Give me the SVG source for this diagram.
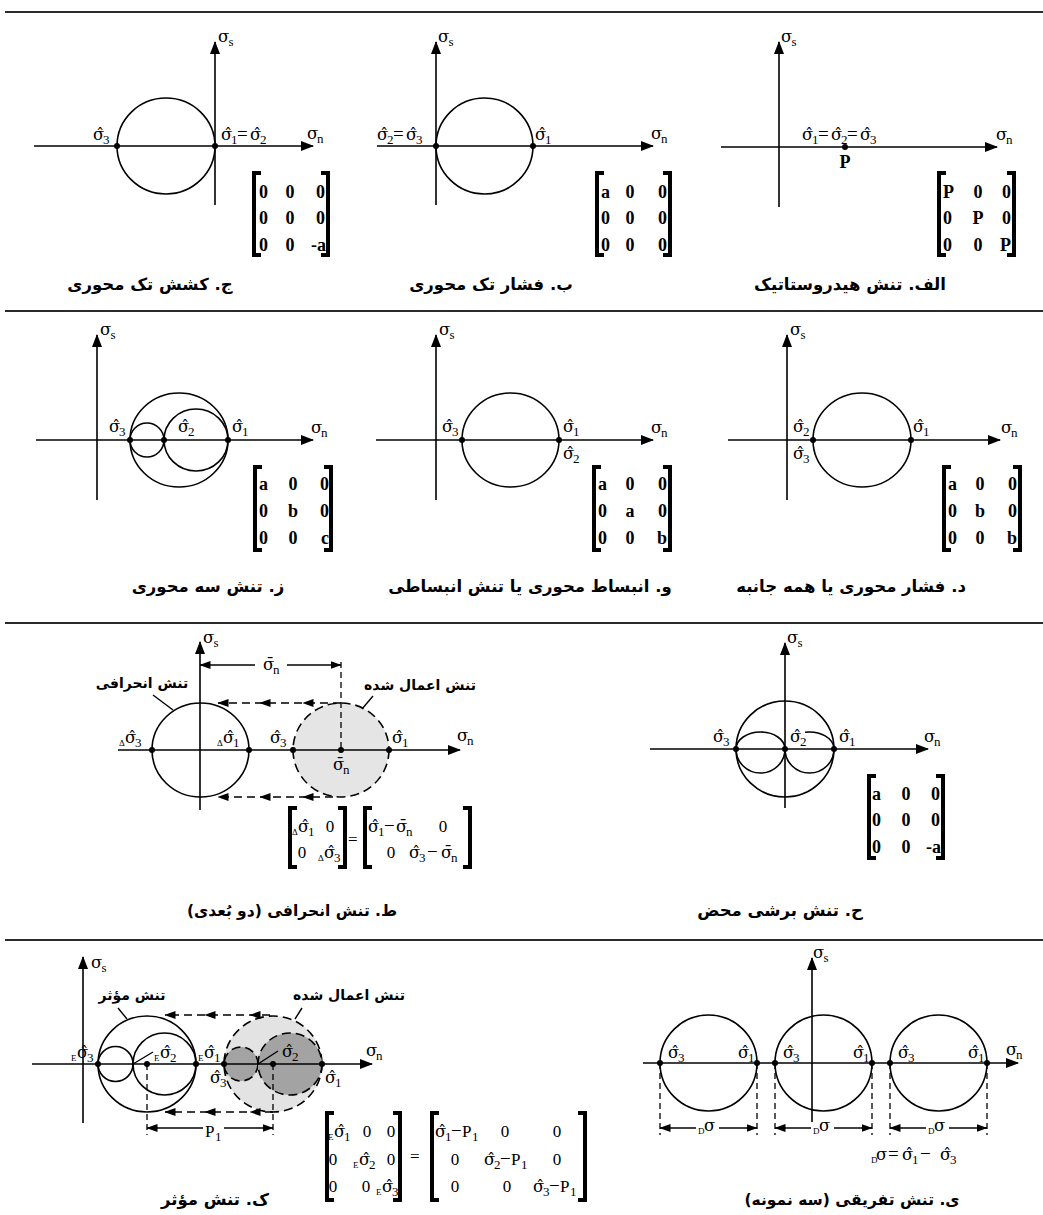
<svg xmlns="http://www.w3.org/2000/svg" width="1043" height="1215" viewBox="0 0 1043 1215">
<defs>
<marker id="ax" viewBox="0 0 13 10" refX="12" refY="5" markerWidth="13" markerHeight="10" markerUnits="userSpaceOnUse" orient="auto"><path d="M0,0 L13,5 L0,10 z" fill="#000"/></marker>
<marker id="ar" viewBox="0 0 11 8" refX="10.5" refY="4" markerWidth="11" markerHeight="8" markerUnits="userSpaceOnUse" orient="auto"><path d="M0,0 L11,4 L0,8 z" fill="#000"/></marker>
</defs>
<style>
.sep{stroke:#2a2a2a;stroke-width:2.2}
.ax{stroke:#000;stroke-width:1.6;fill:none}
.cr{stroke:#000;stroke-width:1.6;fill:none}
.dc{stroke:#000;stroke-width:1.6;stroke-dasharray:9 5}
.dl{stroke:#000;stroke-width:1.3;stroke-dasharray:6 4;fill:none}
.da{stroke:#000;stroke-width:1.6;stroke-dasharray:8 5;fill:none}
.dim{stroke:#000;stroke-width:1.4;fill:none}
.br{stroke:#000;stroke-width:4;fill:none}
.ld{stroke:#000;stroke-width:1.4}
.sl{font-family:"Liberation Serif",serif;font-size:19px}
.g{font-family:"DejaVu Serif",serif;font-size:16.5px}
.b{font-family:"Liberation Serif",serif;font-size:13px}
.e{font-family:"Liberation Serif",serif;font-size:9px}
.m{font-family:"Liberation Serif",serif;font-size:18px;font-weight:bold}
.q{font-family:"Liberation Serif",serif;font-size:17px}
.fa{font-family:"DejaVu Sans",sans-serif;font-weight:bold;direction:rtl;text-anchor:middle}
.cap{font-size:16.5px}
.cp2{font-size:15.5px}
.lb{font-size:14px}
</style>
<rect width="1043" height="1215" fill="#fff"/>
<g id="separators">
<line class="sep" x1="5" y1="12" x2="1043" y2="12"/>
<line class="sep" x1="5" y1="311" x2="1043" y2="311"/>
<line class="sep" x1="5" y1="623" x2="1043" y2="623"/>
<line class="sep" x1="5" y1="940" x2="1043" y2="940"/>
</g>

<g id="panel-j">
<ellipse class="cr" cx="166" cy="146" rx="49" ry="48"/>
<line class="ax" x1="215" y1="205" x2="215" y2="42" marker-end="url(#ax)"/>
<line class="ax" x1="34" y1="146" x2="313" y2="146" marker-end="url(#ax)"/>
<circle cx="117" cy="146" r="3"/><circle cx="215" cy="146" r="3"/>
<text class="sl"><tspan class="g" x="218" y="42">σ</tspan><tspan class="b" x="228.5" y="46">s</tspan></text>
<text class="sl"><tspan class="g" x="93" y="140">σ̂</tspan><tspan class="b" x="103" y="144">3</tspan></text>
<text class="sl"><tspan class="g" x="221" y="140">σ̂</tspan><tspan class="b" x="231" y="144">1</tspan><tspan x="237" y="140">=</tspan><tspan class="g" x="250" y="140">σ̂</tspan><tspan class="b" x="260" y="144">2</tspan></text>
<text class="sl"><tspan class="g" x="307" y="139">σ</tspan><tspan class="b" x="317" y="143">n</tspan></text>
<path class="br" d="M261 173 H254 V255 H261"/><path class="br" d="M321 173 H328 V255 H321"/>
<text class="m" x="259" y="198">0</text><text class="m" x="290" y="198" text-anchor="middle">0</text><text class="m" x="325" y="198" text-anchor="end">0</text>
<text class="m" x="259" y="224">0</text><text class="m" x="290" y="224" text-anchor="middle">0</text><text class="m" x="325" y="224" text-anchor="end">0</text>
<text class="m" x="259" y="251">0</text><text class="m" x="290" y="251" text-anchor="middle">0</text><text class="m" x="326" y="251" text-anchor="end">-a</text>
<text class="fa cap" x="150" y="290">ج. کشش تک محوری</text>
</g>

<g id="panel-b">
<ellipse class="cr" cx="484.5" cy="146" rx="48.5" ry="48"/>
<line class="ax" x1="436" y1="205" x2="436" y2="42" marker-end="url(#ax)"/>
<line class="ax" x1="377" y1="146" x2="653" y2="146" marker-end="url(#ax)"/>
<circle cx="436" cy="146" r="3"/><circle cx="533" cy="146" r="3"/>
<text class="sl"><tspan class="g" x="438" y="42">σ</tspan><tspan class="b" x="448.5" y="46">s</tspan></text>
<text class="sl"><tspan class="g" x="377" y="140">σ̂</tspan><tspan class="b" x="387" y="144">2</tspan><tspan x="393" y="140">=</tspan><tspan class="g" x="406" y="140">σ̂</tspan><tspan class="b" x="416" y="144">3</tspan></text>
<text class="sl"><tspan class="g" x="535" y="140">σ̂</tspan><tspan class="b" x="545" y="144">1</tspan></text>
<text class="sl"><tspan class="g" x="651" y="139">σ</tspan><tspan class="b" x="661" y="143">n</tspan></text>
<path class="br" d="M604 173 H597 V255 H604"/><path class="br" d="M663 173 H670 V255 H663"/>
<text class="m" x="601" y="198">a</text><text class="m" x="630" y="198" text-anchor="middle">0</text><text class="m" x="667" y="198" text-anchor="end">0</text>
<text class="m" x="601" y="224">0</text><text class="m" x="630" y="224" text-anchor="middle">0</text><text class="m" x="667" y="224" text-anchor="end">0</text>
<text class="m" x="601" y="251">0</text><text class="m" x="630" y="251" text-anchor="middle">0</text><text class="m" x="667" y="251" text-anchor="end">0</text>
<text class="fa cap" x="491" y="290">ب. فشار تک محوری</text>
</g>

<g id="panel-alef">
<line class="ax" x1="779" y1="207" x2="779" y2="42" marker-end="url(#ax)"/>
<line class="ax" x1="721" y1="147" x2="997" y2="147" marker-end="url(#ax)"/>
<circle cx="845" cy="147" r="3"/>
<text class="m" x="845" y="168" text-anchor="middle">P</text>
<text class="sl"><tspan class="g" x="781" y="42">σ</tspan><tspan class="b" x="791.5" y="46">s</tspan></text>
<text class="sl"><tspan class="g" x="802" y="140">σ̂</tspan><tspan class="b" x="812" y="144">1</tspan><tspan x="818" y="140">=</tspan><tspan class="g" x="831" y="140">σ̂</tspan><tspan class="b" x="841" y="144">2</tspan><tspan x="847" y="140">=</tspan><tspan class="g" x="860" y="140">σ̂</tspan><tspan class="b" x="870" y="144">3</tspan></text>
<text class="sl"><tspan class="g" x="996" y="140">σ</tspan><tspan class="b" x="1006" y="144">n</tspan></text>
<path class="br" d="M946 173 H939 V255 H946"/><path class="br" d="M1007 173 H1014 V255 H1007"/>
<text class="m" x="943" y="198">P</text><text class="m" x="978" y="198" text-anchor="middle">0</text><text class="m" x="1011" y="198" text-anchor="end">0</text>
<text class="m" x="943" y="224">0</text><text class="m" x="978" y="224" text-anchor="middle">P</text><text class="m" x="1011" y="224" text-anchor="end">0</text>
<text class="m" x="943" y="251">0</text><text class="m" x="978" y="251" text-anchor="middle">0</text><text class="m" x="1011" y="251" text-anchor="end">P</text>
<text class="fa cap" x="850" y="290">الف. تنش هیدروستاتیک</text>
</g>

<g id="panel-ze">
<ellipse class="cr" cx="179" cy="440" rx="49" ry="47"/>
<circle class="cr" cx="147" cy="440" r="17"/>
<ellipse class="cr" cx="196" cy="440" rx="32" ry="31"/>
<line class="ax" x1="97" y1="500" x2="97" y2="335" marker-end="url(#ax)"/>
<line class="ax" x1="36" y1="440" x2="313" y2="440" marker-end="url(#ax)"/>
<circle cx="130" cy="440" r="3"/><circle cx="164" cy="440" r="3"/><circle cx="228" cy="440" r="3"/>
<text class="sl"><tspan class="g" x="100" y="335">σ</tspan><tspan class="b" x="110.5" y="339">s</tspan></text>
<text class="sl"><tspan class="g" x="109" y="432">σ̂</tspan><tspan class="b" x="119" y="436">3</tspan></text>
<text class="sl"><tspan class="g" x="178" y="432">σ̂</tspan><tspan class="b" x="188" y="436">2</tspan></text>
<text class="sl"><tspan class="g" x="232" y="432">σ̂</tspan><tspan class="b" x="242" y="436">1</tspan></text>
<text class="sl"><tspan class="g" x="311" y="433">σ</tspan><tspan class="b" x="321" y="437">n</tspan></text>
<path class="br" d="M262 467 H255 V550 H262"/><path class="br" d="M324 467 H331 V550 H324"/>
<text class="m" x="259" y="490">a</text><text class="m" x="293" y="490" text-anchor="middle">0</text><text class="m" x="329" y="490" text-anchor="end">0</text>
<text class="m" x="259" y="517">0</text><text class="m" x="293" y="517" text-anchor="middle">b</text><text class="m" x="329" y="517" text-anchor="end">0</text>
<text class="m" x="259" y="544">0</text><text class="m" x="293" y="544" text-anchor="middle">0</text><text class="m" x="329" y="544" text-anchor="end">c</text>
<text class="fa cap" x="208" y="592">ز. تنش سه محوری</text>
</g>

<g id="panel-vav">
<ellipse class="cr" cx="510.5" cy="440" rx="48.5" ry="47"/>
<line class="ax" x1="436" y1="500" x2="436" y2="335" marker-end="url(#ax)"/>
<line class="ax" x1="376" y1="440" x2="653" y2="440" marker-end="url(#ax)"/>
<circle cx="462" cy="440" r="3"/><circle cx="559" cy="440" r="3"/>
<text class="sl"><tspan class="g" x="439" y="335">σ</tspan><tspan class="b" x="449.5" y="339">s</tspan></text>
<text class="sl"><tspan class="g" x="442" y="432">σ̂</tspan><tspan class="b" x="452" y="436">3</tspan></text>
<text class="sl"><tspan class="g" x="563" y="432">σ̂</tspan><tspan class="b" x="573" y="436">1</tspan></text>
<text class="sl"><tspan class="g" x="563" y="459">σ̂</tspan><tspan class="b" x="573" y="463">2</tspan></text>
<text class="sl"><tspan class="g" x="651" y="433">σ</tspan><tspan class="b" x="661" y="437">n</tspan></text>
<path class="br" d="M601 467 H594 V550 H601"/><path class="br" d="M663 467 H670 V550 H663"/>
<text class="m" x="598" y="490">a</text><text class="m" x="630" y="490" text-anchor="middle">0</text><text class="m" x="667" y="490" text-anchor="end">0</text>
<text class="m" x="598" y="517">0</text><text class="m" x="630" y="517" text-anchor="middle">a</text><text class="m" x="667" y="517" text-anchor="end">0</text>
<text class="m" x="598" y="544">0</text><text class="m" x="630" y="544" text-anchor="middle">0</text><text class="m" x="667" y="544" text-anchor="end">b</text>
<text class="fa cap" x="530" y="592">و. انبساط محوری یا تنش انبساطی</text>
</g>

<g id="panel-dal">
<ellipse class="cr" cx="862" cy="440" rx="49" ry="47"/>
<line class="ax" x1="787" y1="500" x2="787" y2="335" marker-end="url(#ax)"/>
<line class="ax" x1="728" y1="440" x2="1000" y2="440" marker-end="url(#ax)"/>
<circle cx="813" cy="440" r="3"/><circle cx="911" cy="440" r="3"/>
<text class="sl"><tspan class="g" x="790" y="335">σ</tspan><tspan class="b" x="800.5" y="339">s</tspan></text>
<text class="sl"><tspan class="g" x="793" y="432">σ̂</tspan><tspan class="b" x="803" y="436">2</tspan></text>
<text class="sl"><tspan class="g" x="793" y="459">σ̂</tspan><tspan class="b" x="803" y="463">3</tspan></text>
<text class="sl"><tspan class="g" x="913" y="432">σ̂</tspan><tspan class="b" x="923" y="436">1</tspan></text>
<text class="sl"><tspan class="g" x="1001" y="433">σ</tspan><tspan class="b" x="1011" y="437">n</tspan></text>
<path class="br" d="M951 467 H944 V550 H951"/><path class="br" d="M1013 467 H1020 V550 H1013"/>
<text class="m" x="948" y="490">a</text><text class="m" x="980" y="490" text-anchor="middle">0</text><text class="m" x="1017" y="490" text-anchor="end">0</text>
<text class="m" x="948" y="517">0</text><text class="m" x="980" y="517" text-anchor="middle">b</text><text class="m" x="1017" y="517" text-anchor="end">0</text>
<text class="m" x="948" y="544">0</text><text class="m" x="980" y="544" text-anchor="middle">0</text><text class="m" x="1017" y="544" text-anchor="end">b</text>
<text class="fa cap" x="851" y="592">د. فشار محوری یا همه جانبه</text>
</g>

<g id="panel-ta">
<ellipse class="dc" cx="341" cy="750" rx="48" ry="47" fill="#e5e5e5"/>
<ellipse class="cr" cx="200.5" cy="750" rx="48.5" ry="47"/>
<line class="ax" x1="200" y1="810" x2="200" y2="642" marker-end="url(#ax)"/>
<line class="ax" x1="118" y1="750" x2="460" y2="750" marker-end="url(#ax)"/>
<line class="dl" x1="341" y1="662" x2="341" y2="750"/>
<circle cx="152" cy="750" r="3"/><circle cx="249" cy="750" r="3"/><circle cx="293" cy="750" r="3"/><circle cx="341" cy="750" r="3"/><circle cx="389" cy="750" r="3"/>
<text class="sl"><tspan class="g" x="203" y="643">σ</tspan><tspan class="b" x="213.5" y="647">s</tspan></text>
<text class="sl"><tspan class="g" x="263" y="670">σ̄</tspan><tspan class="b" x="273" y="674">n</tspan></text>
<text class="sl"><tspan class="e" x="119" y="746">Δ</tspan><tspan class="g" x="125" y="743">σ̂</tspan><tspan class="b" x="135" y="747">3</tspan></text>
<text class="sl"><tspan class="e" x="217" y="746">Δ</tspan><tspan class="g" x="223" y="743">σ̂</tspan><tspan class="b" x="233" y="747">1</tspan></text>
<text class="sl"><tspan class="g" x="270" y="743">σ̂</tspan><tspan class="b" x="280" y="747">3</tspan></text>
<text class="sl"><tspan class="g" x="392" y="743">σ̂</tspan><tspan class="b" x="402" y="747">1</tspan></text>
<text class="sl"><tspan class="g" x="333" y="770">σ̄</tspan><tspan class="b" x="343" y="774">n</tspan></text>
<text class="sl"><tspan class="g" x="457" y="741">σ</tspan><tspan class="b" x="467" y="745">n</tspan></text>
<text class="fa lb" x="142" y="688">تنش انحرافی</text>
<text class="fa lb" x="420" y="690">تنش اعمال شده</text>
<path class="br" d="M297 808 H290 V867 H297"/><path class="br" d="M338 808 H345 V867 H338"/>
<text class="q" x="348" y="845">=</text>
<path class="br" d="M372 808 H365 V867 H372"/><path class="br" d="M463 808 H470 V867 H463"/>
<text class="sl"><tspan class="e" x="292" y="835">Δ</tspan><tspan class="g" x="298" y="832">σ̂</tspan><tspan class="b" x="308" y="836">1</tspan></text>
<text class="q" x="330" y="832" text-anchor="middle">0</text>
<text class="q" x="302" y="858" text-anchor="middle">0</text>
<text class="sl"><tspan class="e" x="318" y="861">Δ</tspan><tspan class="g" x="324" y="858">σ̂</tspan><tspan class="b" x="334" y="862">3</tspan></text>
<text class="sl"><tspan class="g" x="368" y="832">σ̂</tspan><tspan class="b" x="378" y="836">1</tspan><tspan x="384" y="832">−</tspan><tspan class="g" x="396" y="832">σ̄</tspan><tspan class="b" x="406" y="836">n</tspan></text>
<text class="q" x="443" y="832" text-anchor="middle">0</text>
<text class="q" x="391" y="858" text-anchor="middle">0</text>
<text class="sl"><tspan class="g" x="409" y="858">σ̂</tspan><tspan class="b" x="419" y="862">3</tspan><tspan x="427" y="858">−</tspan><tspan class="g" x="441" y="858">σ̄</tspan><tspan class="b" x="451" y="862">n</tspan></text>
<text class="fa cp2" x="292" y="916">ط. تنش انحرافی (دو بُعدی)</text>
</g>

<g id="panel-he">
<ellipse class="cr" cx="785" cy="749" rx="49" ry="48"/>
<path class="cr" d="M736 749 A24.5 17 0 0 1 785 749"/>
<path class="cr" d="M736 749 A24.5 24 0 0 0 785 749"/>
<path class="cr" d="M785 749 A24.5 24 0 0 0 834 749"/>
<path class="cr" d="M805 732.3 A24.5 17 0 0 1 834 749"/>
<line class="ax" x1="785" y1="808" x2="785" y2="643" marker-end="url(#ax)"/>
<line class="ax" x1="650" y1="749" x2="928" y2="749" marker-end="url(#ax)"/>
<circle cx="736" cy="749" r="3"/><circle cx="785" cy="749" r="3"/><circle cx="834" cy="749" r="3"/>
<text class="sl"><tspan class="g" x="787" y="643">σ</tspan><tspan class="b" x="797.5" y="647">s</tspan></text>
<text class="sl"><tspan class="g" x="713" y="742">σ̂</tspan><tspan class="b" x="723" y="746">3</tspan></text>
<text class="sl"><tspan class="g" x="790" y="742">σ̂</tspan><tspan class="b" x="800" y="746">2</tspan></text>
<text class="sl"><tspan class="g" x="839" y="742">σ̂</tspan><tspan class="b" x="849" y="746">1</tspan></text>
<text class="sl"><tspan class="g" x="924" y="742">σ</tspan><tspan class="b" x="934" y="746">n</tspan></text>
<path class="br" d="M876 776 H869 V858 H876"/><path class="br" d="M936 776 H943 V858 H936"/>
<text class="m" x="872" y="800">a</text><text class="m" x="906" y="800" text-anchor="middle">0</text><text class="m" x="940" y="800" text-anchor="end">0</text>
<text class="m" x="872" y="826">0</text><text class="m" x="906" y="826" text-anchor="middle">0</text><text class="m" x="940" y="826" text-anchor="end">0</text>
<text class="m" x="872" y="853">0</text><text class="m" x="906" y="853" text-anchor="middle">0</text><text class="m" x="941" y="853" text-anchor="end">-a</text>
<text class="fa cap" x="780" y="916">ح. تنش برشی محض</text>
</g>

<g id="panel-kaf">
<ellipse class="dc" cx="273" cy="1064" rx="49" ry="48" fill="#e3e3e3"/>
<circle class="dc" cx="241" cy="1064" r="17" fill="#a3a3a3"/>
<ellipse class="dc" cx="290" cy="1064" rx="32" ry="31" fill="#a3a3a3"/>
<ellipse class="cr" cx="147" cy="1064" rx="49" ry="48"/>
<circle class="cr" cx="115.5" cy="1064" r="17.5"/>
<ellipse class="cr" cx="164.5" cy="1064" rx="31.5" ry="31"/>
<line class="ax" x1="83" y1="1123" x2="83" y2="957" marker-end="url(#ax)"/>
<line class="ax" x1="32" y1="1064" x2="372" y2="1064" marker-end="url(#ax)"/>
<line class="dl" x1="147" y1="1064" x2="147" y2="1135"/>
<line class="dl" x1="273" y1="1064" x2="273" y2="1135"/>
<circle cx="98" cy="1064" r="3"/><circle cx="147" cy="1064" r="3"/><circle cx="196" cy="1064" r="3"/><circle cx="224" cy="1064" r="3"/><circle cx="273" cy="1064" r="3"/><circle cx="322" cy="1064" r="3"/>
<line class="ld" x1="133" y1="1064" x2="153" y2="1052"/>
<line class="ld" x1="258" y1="1064" x2="278" y2="1051"/>
<text class="sl"><tspan class="g" x="91" y="968">σ</tspan><tspan class="b" x="101.5" y="972">s</tspan></text>
<text class="sl"><tspan class="e" x="71" y="1061">E</tspan><tspan class="g" x="77" y="1058">σ̂</tspan><tspan class="b" x="87" y="1062">3</tspan></text>
<text class="sl"><tspan class="e" x="154" y="1061">E</tspan><tspan class="g" x="160" y="1058">σ̂</tspan><tspan class="b" x="170" y="1062">2</tspan></text>
<text class="sl"><tspan class="e" x="198" y="1061">E</tspan><tspan class="g" x="204" y="1058">σ̂</tspan><tspan class="b" x="214" y="1062">1</tspan></text>
<text class="sl"><tspan class="g" x="210" y="1083">σ̂</tspan><tspan class="b" x="220" y="1087">3</tspan></text>
<text class="sl"><tspan class="g" x="282" y="1057">σ̂</tspan><tspan class="b" x="292" y="1061">2</tspan></text>
<text class="sl"><tspan class="g" x="325" y="1083">σ̂</tspan><tspan class="b" x="335" y="1087">1</tspan></text>
<text class="sl"><tspan class="g" x="366" y="1056">σ</tspan><tspan class="b" x="376" y="1060">n</tspan></text>
<text class="q"><tspan x="205" y="1137">P</tspan><tspan class="b" x="215" y="1141">1</tspan></text>
<text class="fa lb" x="132" y="1000">تنش مؤثر</text>
<text class="fa lb" x="349" y="1000">تنش اعمال شده</text>
<path class="br" d="M334 1113 H327 V1200 H334"/><path class="br" d="M393 1113 H400 V1200 H393"/>
<text class="q" x="410" y="1162">=</text>
<path class="br" d="M439 1113 H432 V1200 H439"/><path class="br" d="M578 1113 H585 V1200 H578"/>
<text class="sl"><tspan class="e" x="328" y="1140">E</tspan><tspan class="g" x="334" y="1137">σ̂</tspan><tspan class="b" x="344" y="1141">1</tspan></text>
<text class="q" x="367" y="1137" text-anchor="middle">0</text><text class="q" x="391" y="1137" text-anchor="middle">0</text>
<text class="q" x="333" y="1165" text-anchor="middle">0</text>
<text class="sl"><tspan class="e" x="353" y="1168">E</tspan><tspan class="g" x="359" y="1165">σ̂</tspan><tspan class="b" x="369" y="1169">2</tspan></text>
<text class="q" x="391" y="1165" text-anchor="middle">0</text>
<text class="q" x="333" y="1192" text-anchor="middle">0</text><text class="q" x="366" y="1192" text-anchor="middle">0</text>
<text class="sl"><tspan class="e" x="376" y="1195">E</tspan><tspan class="g" x="382" y="1192">σ̂</tspan><tspan class="b" x="392" y="1196">3</tspan></text>
<text class="sl"><tspan class="g" x="435" y="1137">σ̂</tspan><tspan class="b" x="445" y="1141">1</tspan><tspan x="451" y="1137">−</tspan><tspan class="q" x="462" y="1137">P</tspan><tspan class="b" x="472" y="1141">1</tspan></text>
<text class="q" x="505" y="1137" text-anchor="middle">0</text><text class="q" x="557" y="1137" text-anchor="middle">0</text>
<text class="q" x="455" y="1165" text-anchor="middle">0</text>
<text class="sl"><tspan class="g" x="484" y="1165">σ̂</tspan><tspan class="b" x="494" y="1169">2</tspan><tspan x="500" y="1165">−</tspan><tspan class="q" x="511" y="1165">P</tspan><tspan class="b" x="521" y="1169">1</tspan></text>
<text class="q" x="557" y="1165" text-anchor="middle">0</text>
<text class="q" x="455" y="1192" text-anchor="middle">0</text><text class="q" x="507" y="1192" text-anchor="middle">0</text>
<text class="sl"><tspan class="g" x="533" y="1192">σ̂</tspan><tspan class="b" x="543" y="1196">3</tspan><tspan x="549" y="1192">−</tspan><tspan class="q" x="560" y="1192">P</tspan><tspan class="b" x="570" y="1196">1</tspan></text>
<text class="fa cap" x="215" y="1205">ک. تنش مؤثر</text>
</g>

<g id="panel-ye">
<ellipse class="cr" cx="708.5" cy="1063" rx="48.5" ry="48"/>
<ellipse class="cr" cx="823.5" cy="1063" rx="48.5" ry="48"/>
<ellipse class="cr" cx="938.5" cy="1063" rx="48.5" ry="48"/>
<line class="ax" x1="812" y1="1122" x2="812" y2="958" marker-end="url(#ax)"/>
<line class="ax" x1="643" y1="1063" x2="1018" y2="1063" marker-end="url(#ax)"/>
<line class="dl" x1="660" y1="1063" x2="660" y2="1135"/><line class="dl" x1="757" y1="1063" x2="757" y2="1135"/>
<line class="dl" x1="775" y1="1063" x2="775" y2="1135"/><line class="dl" x1="872" y1="1063" x2="872" y2="1135"/>
<line class="dl" x1="890" y1="1063" x2="890" y2="1135"/><line class="dl" x1="987" y1="1063" x2="987" y2="1135"/>
<circle cx="660" cy="1063" r="3"/><circle cx="757" cy="1063" r="3"/><circle cx="775" cy="1063" r="3"/><circle cx="872" cy="1063" r="3"/><circle cx="890" cy="1063" r="3"/><circle cx="987" cy="1063" r="3"/>
<text class="sl"><tspan class="g" x="813" y="958">σ</tspan><tspan class="b" x="823.5" y="962">s</tspan></text>
<text class="sl"><tspan class="g" x="668" y="1058">σ̂</tspan><tspan class="b" x="678" y="1062">3</tspan></text>
<text class="sl"><tspan class="g" x="738" y="1058">σ̂</tspan><tspan class="b" x="748" y="1062">1</tspan></text>
<text class="sl"><tspan class="g" x="783" y="1058">σ̂</tspan><tspan class="b" x="793" y="1062">3</tspan></text>
<text class="sl"><tspan class="g" x="853" y="1058">σ̂</tspan><tspan class="b" x="863" y="1062">1</tspan></text>
<text class="sl"><tspan class="g" x="898" y="1058">σ̂</tspan><tspan class="b" x="908" y="1062">3</tspan></text>
<text class="sl"><tspan class="g" x="968" y="1058">σ̂</tspan><tspan class="b" x="978" y="1062">1</tspan></text>
<text class="sl"><tspan class="g" x="1006" y="1055">σ</tspan><tspan class="b" x="1016" y="1059">n</tspan></text>
<text class="sl"><tspan class="e" x="698" y="1134">D</tspan><tspan class="g" x="704" y="1131">σ</tspan></text>
<text class="sl"><tspan class="e" x="813" y="1134">D</tspan><tspan class="g" x="819" y="1131">σ</tspan></text>
<text class="sl"><tspan class="e" x="928" y="1134">D</tspan><tspan class="g" x="934" y="1131">σ</tspan></text>
<text class="sl"><tspan class="e" x="871" y="1163">D</tspan><tspan class="g" x="876" y="1160">σ</tspan><tspan x="888" y="1160">=</tspan><tspan class="g" x="902" y="1160">σ̂</tspan><tspan class="b" x="912" y="1164">1</tspan><tspan x="920" y="1160">−</tspan><tspan class="g" x="940" y="1160">σ̂</tspan><tspan class="b" x="950" y="1164">3</tspan></text>
<text class="fa cp2" x="852" y="1205">ی. تنش تفریقی (سه نمونه)</text>
</g>

<g id="connectors">
<path class="dim" d="M255 665 H200" marker-end="url(#ar)"/>
<path class="dim" d="M287 665 H341" marker-end="url(#ar)"/>
<path class="da" d="M341 703 H303 H260 H218" marker-mid="url(#ar)" marker-end="url(#ar)"/>
<path class="da" d="M333 797 H303 H260 H218" marker-mid="url(#ar)" marker-end="url(#ar)"/>
<line class="ld" x1="153" y1="695" x2="173" y2="710"/>
<line class="ld" x1="373" y1="696" x2="362" y2="709"/>
<path class="dim" d="M203 1128 H147" marker-end="url(#ar)"/>
<path class="dim" d="M224 1128 H273" marker-end="url(#ar)"/>
<path class="da" d="M270 1015 H250 H205 H165" marker-mid="url(#ar)" marker-end="url(#ar)"/>
<path class="da" d="M273 1112 H250 H205 H165" marker-mid="url(#ar)" marker-end="url(#ar)"/>
<line class="ld" x1="118" y1="1008" x2="127" y2="1019"/>
<line class="ld" x1="302" y1="1008" x2="295" y2="1019"/>
<path class="dim" d="M696 1128 H660" marker-end="url(#ar)"/>
<path class="dim" d="M719 1128 H757" marker-end="url(#ar)"/>
<path class="dim" d="M811 1128 H775" marker-end="url(#ar)"/>
<path class="dim" d="M834 1128 H872" marker-end="url(#ar)"/>
<path class="dim" d="M926 1128 H890" marker-end="url(#ar)"/>
<path class="dim" d="M949 1128 H987" marker-end="url(#ar)"/>
</g>
</svg>
